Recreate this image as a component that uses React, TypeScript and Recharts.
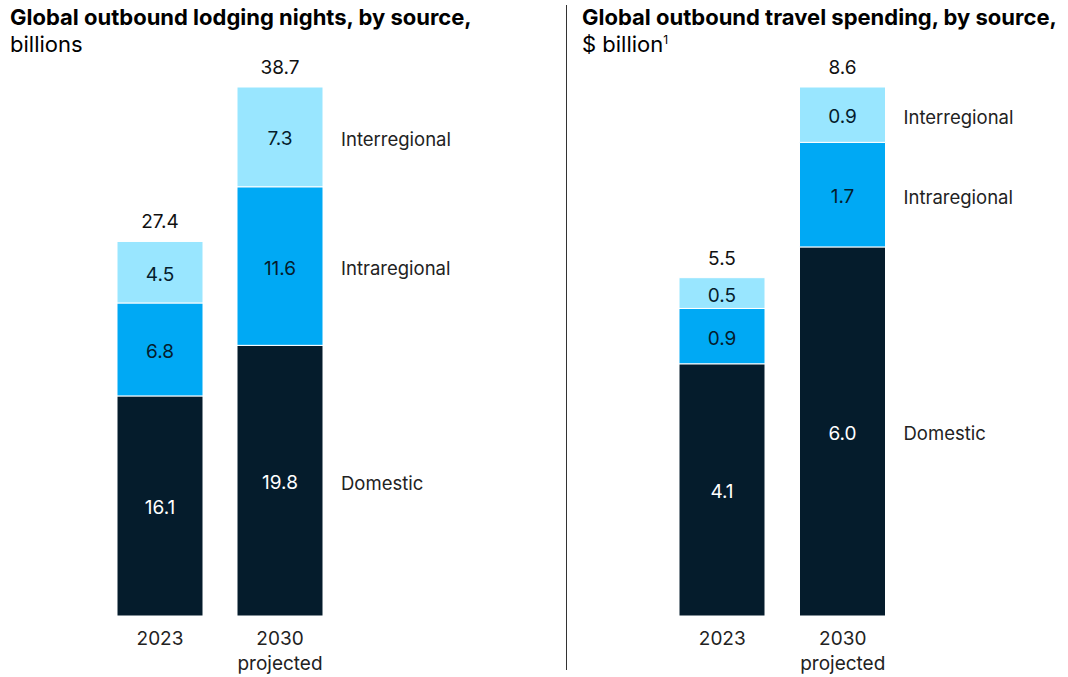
import React from "react";
import { BarChart, Bar, XAxis, YAxis, LabelList } from "recharts";

const YEARS = ["2023", "2030"];
const YEAR_SUBLABELS = ["", "projected"];
const SERIES = ["Domestic", "Intraregional", "Interregional"];

const LODGING_DOMESTIC = [16.1, 19.8];
const LODGING_INTRA = [6.8, 11.6];
const LODGING_INTER = [4.5, 7.3];
const LODGING_TOTAL = [27.4, 38.7];

const SPEND_DOMESTIC = [4.1, 6.0];
const SPEND_INTRA = [0.9, 1.7];
const SPEND_INTER = [0.5, 0.9];
const SPEND_TOTAL = [5.5, 8.6];

const COLORS = ["#051c2c", "#00a9f4", "#99e6ff"];
const FONT = "Inter, 'Noto Sans', sans-serif";

const buildRows = (dom: number[], intra: number[], inter: number[], total: number[]) =>
  YEARS.map((year, i) => ({
    year,
    sub: YEAR_SUBLABELS[i],
    Domestic: dom[i],
    Intraregional: intra[i],
    Interregional: inter[i],
    total: total[i],
  }));

const YearTick = (props: any) => {
  const { x, y, payload, index } = props;
  return (
    <g>
      <text x={x} y={y + 21} textAnchor="middle" fontSize={19} fill="#222" fontFamily={FONT}>
        {payload.value}
      </text>
      {YEAR_SUBLABELS[index] ? (
        <text x={x} y={y + 46} textAnchor="middle" fontSize={19} fill="#222" fontFamily={FONT}>
          {YEAR_SUBLABELS[index]}
        </text>
      ) : null}
    </g>
  );
};

// value label centred inside a segment
const inBar = (fill: string) => (props: any) => {
  const { x, y, width, height, value } = props;
  return (
    <text
      x={x + width / 2}
      y={y + height / 2 + 2}
      textAnchor="middle"
      dominantBaseline="central"
      fontSize={19}
      fill={fill}
      fontFamily={FONT}
    >
      {Number(value).toFixed(1)}
    </text>
  );
};

// series name beside the last bar
const sideName = (name: string) => (props: any) => {
  const { x, y, width, height, index } = props;
  if (index !== YEARS.length - 1) return null;
  return (
    <text
      x={x + width + 18}
      y={y + height / 2 + 2}
      dominantBaseline="central"
      fontSize={18.5}
      fill="#222"
      fontFamily={FONT}
    >
      {name}
    </text>
  );
};

const totalLabel = (rows: any[]) => (props: any) => {
  const { x, y, width, index } = props;
  return (
    <text x={x + width / 2} y={y - 13} textAnchor="middle" fontSize={19} fill="#111" fontFamily={FONT}>
      {rows[index].total.toFixed(1)}
    </text>
  );
};

interface PanelProps {
  rows: any[];
  max: number;
  width: number;
  marginLeft: number;
  marginRight: number;
}

function Panel({ rows, max, width, marginLeft, marginRight }: PanelProps) {
  return (
    <BarChart
      width={width}
      height={677}
      data={rows}
      margin={{ top: 87, bottom: 31, left: marginLeft, right: marginRight }}
      barCategoryGap={34}
    >
      <XAxis dataKey="year" axisLine={false} tickLine={false} tick={<YearTick />} interval={0} height={30} />
      <YAxis hide domain={[0, max]} />
      {SERIES.map((s, i) => (
        <Bar
          key={s}
          dataKey={s}
          stackId="a"
          fill={COLORS[i]}
          stroke="#fff"
          strokeWidth={1}
          barSize={86}
          isAnimationActive={false}
        >
          <LabelList dataKey={s} content={inBar(i === 0 ? "#fff" : "#051c2c")} />
          <LabelList dataKey={s} content={sideName(s)} />
          {i === SERIES.length - 1 ? <LabelList dataKey={s} content={totalLabel(rows)} /> : null}
        </Bar>
      ))}
    </BarChart>
  );
}

export default function App() {
  const lodging = buildRows(LODGING_DOMESTIC, LODGING_INTRA, LODGING_INTER, LODGING_TOTAL);
  const spending = buildRows(SPEND_DOMESTIC, SPEND_INTRA, SPEND_INTER, SPEND_TOTAL);

  return (
    <div style={{ position: "absolute", left: 0, top: 0, width: 1068, height: 677, background: "#fff", fontFamily: FONT }}>
      <div style={{ position: "absolute", left: 0, top: 0 }}>
        <Panel rows={lodging} max={38.7} width={560} marginLeft={100} marginRight={220} />
      </div>
      <div style={{ position: "absolute", left: 566, top: 0 }}>
        <Panel rows={spending} max={8.6} width={502} marginLeft={96} marginRight={165} />
      </div>

      <div style={{ position: "absolute", left: 10, top: 4, fontSize: 22, lineHeight: "27px", color: "#000", whiteSpace: "nowrap" }}>
        <div style={{ fontWeight: 700 }}>Global outbound lodging nights, by source,</div>
        <div>billions</div>
      </div>
      <div style={{ position: "absolute", left: 582, top: 4, fontSize: 22, lineHeight: "27px", color: "#000", whiteSpace: "nowrap" }}>
        <div style={{ fontWeight: 700 }}>Global outbound travel spending, by source,</div>
        <div>
          $ billion<sup style={{ fontSize: 12, verticalAlign: "super", lineHeight: 0 }}>1</sup>
        </div>
      </div>
      <div style={{ position: "absolute", left: 566, top: 5, width: 1, height: 665, background: "#333" }} />
    </div>
  );
}
